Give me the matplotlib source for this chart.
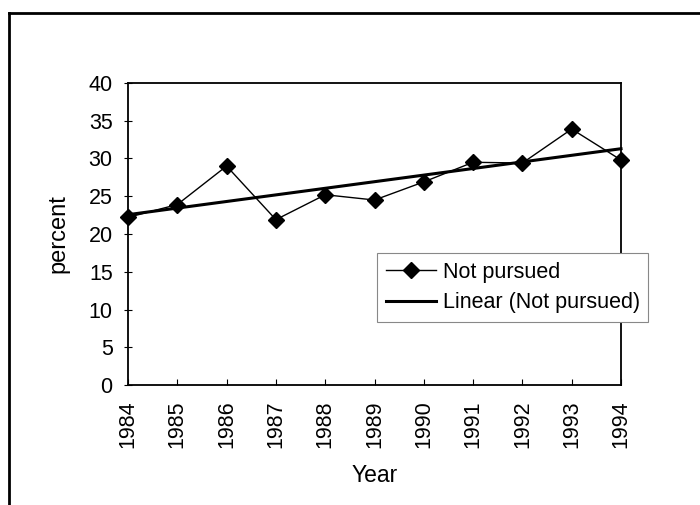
import matplotlib
matplotlib.use("Agg")
import matplotlib.pyplot as plt
import numpy as np
from matplotlib.lines import Line2D

plt.rcParams['font.family'] = ['Liberation Sans', 'DejaVu Sans']

# values
years = [1984, 1985, 1986, 1987, 1988, 1989, 1990, 1991, 1992, 1993, 1994]
not_pursued = [22.2, 23.9, 29.0, 21.9, 25.2, 24.5, 26.9, 29.5, 29.4, 33.9, 29.8]
y_ticks = [0, 5, 10, 15, 20, 25, 30, 35, 40]

# linear trend like Excel's "Linear (...)" trendline
coef = np.polyfit(years, not_pursued, 1)
trend = np.polyval(coef, years)

fig = plt.figure(figsize=(7.0, 5.05), dpi=100)
ax = fig.add_axes([128 / 700, 1 - 385 / 505, 493 / 700, 302 / 505])

ax.plot(years, not_pursued, color='black', lw=1.0, marker='D', markersize=8.5,
        label='Not pursued', zorder=3, clip_on=False)
ax.plot(years, trend, color='black', lw=2.2, label='Linear (Not pursued)', zorder=2,
        clip_on=False)

ax.set_xlim(1984, 1994)
ax.set_ylim(0, 40)
ax.set_xticks(years)
ax.set_xticklabels([str(y) for y in years], rotation=90)
ax.set_yticks(y_ticks)

for side in ax.spines.values():
    side.set_linewidth(1.3)
ax.tick_params(axis='y', direction='inout', length=6, width=0.8, labelsize=15.5, pad=8)
ax.tick_params(axis='x', direction='in', length=4, width=0.8, labelsize=15.5, pad=11)

ax.set_xlabel('Year', fontsize=16.5)
ax.set_ylabel('percent', fontsize=17)
ax.xaxis.set_label_coords(0.5, -0.26)
ax.yaxis.set_label_coords(-0.118, 0.5)

leg = ax.legend(loc='upper left', bbox_to_anchor=(377 / 700, 1 - 253 / 505),
                bbox_transform=fig.transFigure, borderaxespad=0, fontsize=15.5,
                frameon=True, fancybox=False, framealpha=1, handlelength=2.35,
                handletextpad=0.3, borderpad=0.4, labelspacing=0.45)
leg.get_frame().set_edgecolor('#888888')
leg.get_frame().set_linewidth(0.8)

# outer chart frame, cut off at right and bottom like the scan
fig.add_artist(Line2D([9 / 700, 9 / 700], [0, 1 - 13 / 505], color='black', lw=2,
                      transform=fig.transFigure))
fig.add_artist(Line2D([9 / 700, 1], [1 - 13 / 505, 1 - 13 / 505], color='black', lw=2,
                      transform=fig.transFigure))

fig.savefig('out.png', dpi=100)
